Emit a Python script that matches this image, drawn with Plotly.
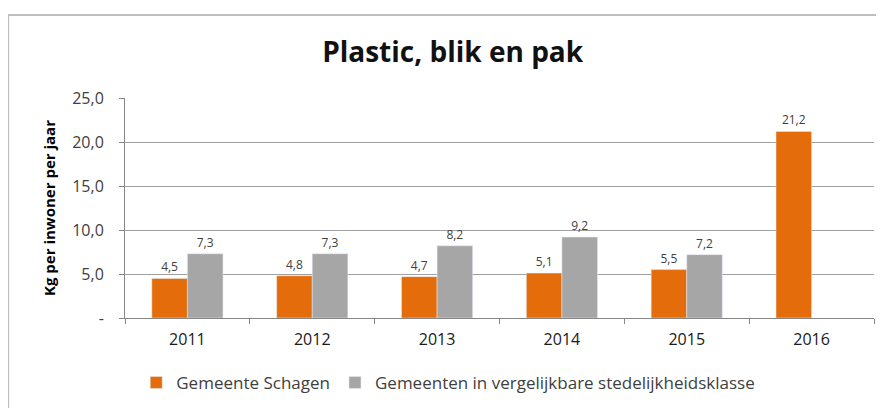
import plotly.graph_objects as go

years = ["2011", "2012", "2013", "2014", "2015", "2016"]
schagen = [4.5, 4.8, 4.7, 5.1, 5.5, 21.2]
vergelijk = [7.3, 7.3, 8.2, 9.2, 7.2, None]
tick_vals = [0, 5, 10, 15, 20, 25]
tick_text = ["-", "5,0", "10,0", "15,0", "20,0", "25,0"]

def fmt(v):
    return "" if v is None else f"{v:.1f}".replace(".", ",")

FONT = "Open Sans, Liberation Sans, sans-serif"

fig = go.Figure()
fig.add_trace(go.Bar(
    x=years, y=schagen, name="Gemeente Schagen",
    marker=dict(color="#E46C0A"),
    text=[fmt(v) for v in schagen], textposition="outside",
    textfont=dict(size=12, color="#404040"), cliponaxis=False,
))
fig.add_trace(go.Bar(
    x=years, y=vergelijk, name="Gemeenten in vergelijkbare stedelijkheidsklasse",
    marker=dict(color="#A6A6A6"),
    text=[fmt(v) for v in vergelijk], textposition="outside",
    textfont=dict(size=12, color="#404040"), cliponaxis=False,
))

fig.update_layout(
    width=884, height=408,
    paper_bgcolor="white", plot_bgcolor="white",
    margin=dict(l=117, r=18, t=90, b=98),
    barmode="group", bargap=0.43, bargroupgap=0.0,
    font=dict(family=FONT, color="#404040"),
    title=dict(text="<b>Plastic, blik en pak</b>", x=0.503, xanchor="center",
               y=0.892, yanchor="middle",
               font=dict(size=28, color="#111111", family=FONT)),
    legend=dict(orientation="h", x=0.015, xanchor="left", y=-0.295, yanchor="middle",
                font=dict(size=17, color="#404040"), itemwidth=30,
                traceorder="normal"),
    showlegend=True,
)
fig.update_xaxes(
    showline=True, linecolor="#868686", linewidth=1,
    ticks="outside", tickcolor="#868686", ticklen=5, tickson="boundaries",
    tickfont=dict(size=16, color="#1a1a1a"), showgrid=False,
    ticklabelstandoff=7,
)
fig.update_yaxes(
    range=[0, 25], tickvals=tick_vals, ticktext=tick_text,
    showline=True, linecolor="#868686", linewidth=1,
    ticks="outside", tickcolor="#868686", ticklen=5,
    showgrid=True, gridcolor="#A0A0A0", gridwidth=1,
    tickfont=dict(size=16, color="#404040"), ticklabelstandoff=12,
    title=dict(text="<b>Kg per inwoner per jaar</b>", font=dict(size=15, color="#000000"), standoff=12),
)
fig.add_shape(type="rect", xref="paper", yref="paper",
              x0=-0.156, x1=1.05, y0=-0.5, y1=1.377,
              line=dict(color="#BFBFBF", width=2), layer="below")

fig.write_html("out.html")
